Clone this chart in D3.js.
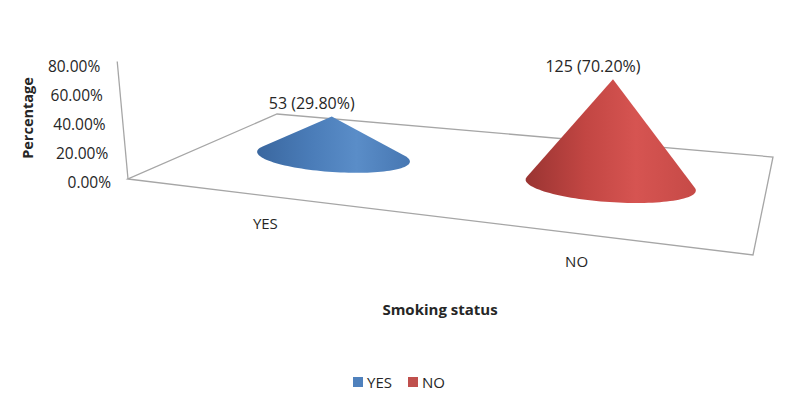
<!DOCTYPE html>
<html>
<head>
<meta charset="utf-8">
<script src="https://cdn.jsdelivr.net/npm/d3@7"></script>
<style>
  body { margin: 0; background: #fff; }
  text { font-family: "Open Sans", "Liberation Sans", sans-serif; fill: #262626; }
</style>
</head>
<body>
<script>
const w = 800;
const h = 400;

const categories = ["YES", "NO"];
const counts = [53, 125];
const percents = [29.8, 70.2];
const yTicks = [0, 20, 40, 60, 80];
const colors = ["#4f81bd", "#c0504d"];
const gradStops = [
  ["#3a679f", "#4a7cb8", "#5a8dc8", "#4777b2"],
  ["#9a3432", "#c24643", "#d65451", "#c64a47"]
];

// floor corners: front-left, front-right, back-right, back-left
const FL = [128, 179], FR = [753, 255], BR = [773, 157], BL = [277, 114];
// vanishing point for vertical lines (far below)
const VP = [522, 4400];

// square -> quad perspective mapping
const dx1 = FR[0] - BR[0], dy1 = FR[1] - BR[1];
const dx2 = BL[0] - BR[0], dy2 = BL[1] - BR[1];
const dx3 = FL[0] - FR[0] + BR[0] - BL[0], dy3 = FL[1] - FR[1] + BR[1] - BL[1];
const den = dx1 * dy2 - dx2 * dy1;
const g = (dx3 * dy2 - dx2 * dy3) / den;
const hh = (dx1 * dy3 - dx3 * dy1) / den;
const a = FR[0] - FL[0] + g * FR[0], b = BL[0] - FL[0] + hh * BL[0], c = FL[0];
const d = FR[1] - FL[1] + g * FR[1], e = BL[1] - FL[1] + hh * BL[1], f = FL[1];

function depth(u, v) { return g * u + hh * v + 1; }
function project(u, v) {
  const q = depth(u, v);
  return [(a * u + b * v + c) / q, (d * u + e * v + f) / q];
}
function raise(p, px) {
  const vx = p[0] - VP[0], vy = p[1] - VP[1];
  const len = Math.hypot(vx, vy);
  return [p[0] + vx / len * px, p[1] + vy / len * px];
}

const xScale = d3.scaleBand().domain(categories).range([0.015, 1.015]);
const yScale = d3.scaleLinear().domain([0, 80]).range([0, 116]);
const vMid = 0.48;
const baseR = 82;

const svg = d3.select("body")
  .append("svg")
  .attr("width", w)
  .attr("height", h);

const defs = svg.append("defs");
gradStops.forEach((s, i) => {
  const lg = defs.append("linearGradient")
    .attr("id", "cone" + i)
    .attr("x1", 0).attr("x2", 1).attr("y1", 0).attr("y2", 0);
  [0, 0.35, 0.65, 1].forEach((o, j) => {
    lg.append("stop").attr("offset", o).attr("stop-color", s[j]);
  });
});

// floor
svg.append("path")
  .attr("d", "M" + [FL, FR, BR, BL].join("L") + "Z")
  .attr("fill", "#fff")
  .attr("stroke", "#a6a6a6")
  .attr("stroke-width", 1.3);

// vertical axis
const axisTop = raise(FL, yScale(80));
svg.append("line")
  .attr("x1", FL[0]).attr("y1", FL[1])
  .attr("x2", axisTop[0]).attr("y2", axisTop[1] - 2)
  .attr("stroke", "#a6a6a6")
  .attr("stroke-width", 1.3);

svg.selectAll(".ytick")
  .data(yTicks)
  .enter()
  .append("text")
  .attr("class", "ytick")
  .attr("x", (t) => raise(FL, yScale(t))[0] - 17)
  .attr("y", (t) => raise(FL, yScale(t))[1] + 8.5)
  .attr("text-anchor", "end")
  .style("font-size", "15.5px")
  .text((t) => t.toFixed(2) + "%");

// cones
const cones = categories.map((cat, i) => {
  const u = xScale(cat) + xScale.bandwidth() / 2;
  const center = project(u, vMid);
  const q = depth(u, vMid);
  const right = project(u + 0.01, vMid);
  let ux = right[0] - center[0], uy = (right[1] - center[1]) * 0.65;
  const ul = Math.hypot(ux, uy);
  ux /= ul; uy /= ul;
  const rx = baseR / q, ry = rx * 0.2;
  const pts = d3.range(0, 360, 3).map((deg) => {
    const t = deg * Math.PI / 180;
    return [center[0] + ux * rx * Math.cos(t) - uy * ry * Math.sin(t),
            center[1] + uy * rx * Math.cos(t) + ux * ry * Math.sin(t)];
  });
  const apex = raise(center, yScale(percents[i]) / q);
  return { cat, i, apex, hull: d3.polygonHull([apex].concat(pts)) };
});

svg.selectAll(".cone")
  .data(cones)
  .enter()
  .append("path")
  .attr("class", "cone")
  .attr("d", (k) => "M" + k.hull.join("L") + "Z")
  .attr("fill", (k) => "url(#cone" + k.i + ")");

svg.selectAll(".dlabel")
  .data(cones)
  .enter()
  .append("text")
  .attr("class", "dlabel")
  .attr("x", (k) => k.apex[0] - 20)
  .attr("y", (k) => k.apex[1] - 7)
  .attr("text-anchor", "middle")
  .style("font-size", "16px")
  .text((k) => counts[k.i] + " (" + percents[k.i].toFixed(2) + "%)");

// category labels
svg.selectAll(".xlabel")
  .data(categories)
  .enter()
  .append("text")
  .attr("class", "xlabel")
  .attr("x", (cat) => project(xScale(cat) + xScale.bandwidth() / 2, 0)[0])
  .attr("y", (cat) => project(xScale(cat) + xScale.bandwidth() / 2, 0)[1] + 33)
  .attr("text-anchor", "middle")
  .style("font-size", "15px")
  .text((cat) => cat);

// axis titles
svg.append("text")
  .attr("transform", "translate(33,118) rotate(-90)")
  .attr("text-anchor", "middle")
  .style("font-size", "14.5px")
  .style("font-weight", "bold")
  .text("Percentage");

svg.append("text")
  .attr("x", 440)
  .attr("y", 315)
  .attr("text-anchor", "middle")
  .style("font-size", "15px")
  .style("font-weight", "bold")
  .text("Smoking status");

// legend
const legendX = [353, 408];
categories.forEach((cat, i) => {
  svg.append("rect")
    .attr("x", legendX[i]).attr("y", 377)
    .attr("width", 10).attr("height", 10)
    .attr("fill", colors[i]);
  svg.append("text")
    .attr("x", legendX[i] + 14).attr("y", 388)
    .style("font-size", "15px")
    .text(cat);
});
</script>
</body>
</html>
